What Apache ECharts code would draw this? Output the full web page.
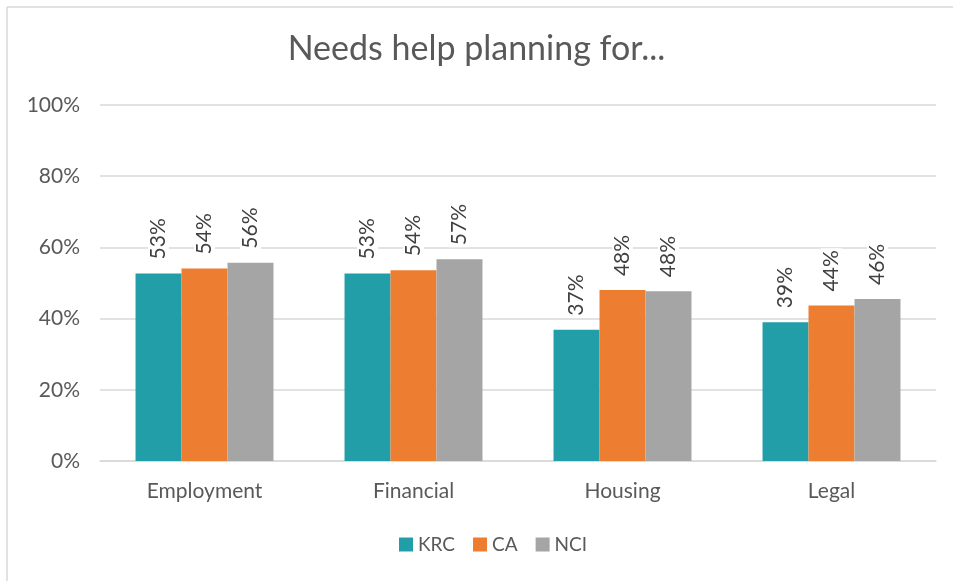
<!DOCTYPE html>
<html>
<head>
<meta charset="utf-8">
<script src="https://cdn.jsdelivr.net/npm/echarts@6/dist/echarts.min.js"></script>
<style>
  html, body { margin: 0; padding: 0; background: #fff; }
  #chart { width: 953px; height: 581px; }
</style>
</head>
<body>
<div id="chart"></div>
<script>
var categories = ["Employment", "Financial", "Housing", "Legal"];
var krc = [0.527, 0.527, 0.369, 0.390];
var ca = [0.541, 0.536, 0.480, 0.437];
var nci = [0.557, 0.567, 0.477, 0.455];
var yTicks = [0, 0.2, 0.4, 0.6, 0.8, 1.0];

var fontFamily = "Lato, 'Open Sans', sans-serif";

function pct(v) {
  return Math.round(v * 100) + "%";
}

function barSeries(name, data, color) {
  return {
    name: name,
    type: "bar",
    data: data,
    barGap: "0%",
    barCategoryGap: "34%",
    itemStyle: { color: color },
    label: {
      show: true,
      position: "top",
      rotate: 90,
      align: "left",
      verticalAlign: "middle",
      distance: 12,
      fontSize: 21,
      fontFamily: fontFamily,
      color: "#404040",
      backgroundColor: "#fff",
      padding: [0, 2],
      formatter: function (p) { return pct(p.value); }
    }
  };
}

var chart = echarts.init(document.getElementById("chart"));
chart.setOption({
  animation: false,
  title: {
    text: "Needs help planning for...",
    left: "center",
    top: 27,
    textStyle: { fontSize: 34, fontWeight: "normal", color: "#595959", fontFamily: fontFamily }
  },
  graphic: [
    { type: "line", shape: { x1: 7, y1: 7, x2: 953, y2: 7 }, style: { stroke: "#d9d9d9", lineWidth: 1.5 } },
    { type: "line", shape: { x1: 7, y1: 7, x2: 7, y2: 581 }, style: { stroke: "#d9d9d9", lineWidth: 1.5 } }
  ],
  legend: {
    bottom: 22,
    left: 394,
    itemWidth: 14,
    itemHeight: 14,
    itemGap: 18,
    icon: "rect",
    textStyle: { fontSize: 19, color: "#595959", fontFamily: fontFamily },
    data: ["KRC", "CA", "NCI"]
  },
  grid: { left: 100, right: 17, top: 105, bottom: 120 },
  xAxis: {
    type: "category",
    data: categories,
    axisTick: { show: false },
    axisLine: { lineStyle: { color: "#d9d9d9", width: 1.5 } },
    axisLabel: { fontSize: 21, color: "#595959", margin: 20, fontFamily: fontFamily }
  },
  yAxis: {
    type: "value",
    min: yTicks[0],
    max: yTicks[yTicks.length - 1],
    interval: 0.2,
    axisLine: { show: false },
    axisTick: { show: false },
    splitLine: { lineStyle: { color: "#d9d9d9", width: 1.5 } },
    axisLabel: { fontSize: 21, color: "#595959", margin: 20, fontFamily: fontFamily, formatter: pct }
  },
  series: [
    barSeries("KRC", krc, "#219ea8"),
    barSeries("CA", ca, "#ed7d31"),
    barSeries("NCI", nci, "#a5a5a5")
  ]
});
</script>
</body>
</html>
